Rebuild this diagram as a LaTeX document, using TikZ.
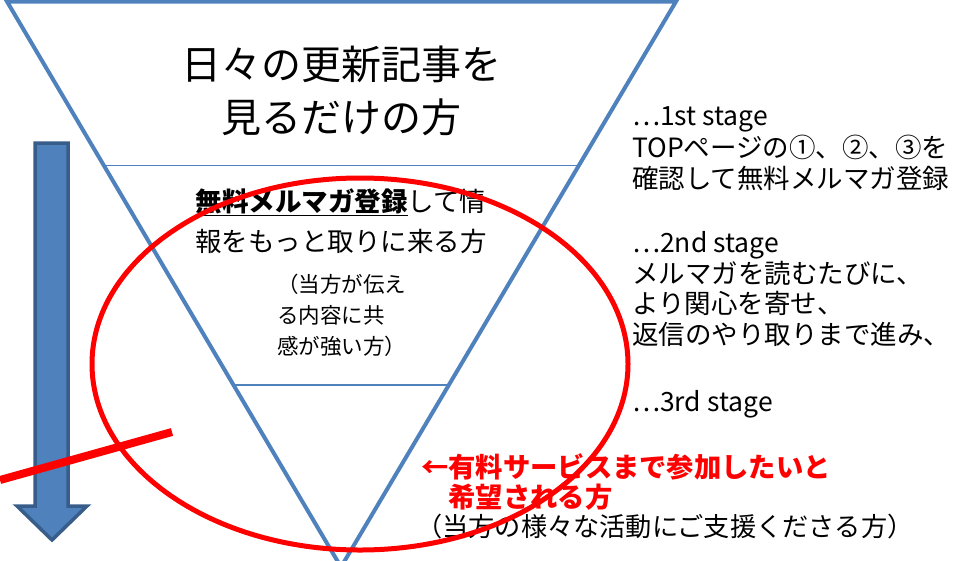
\documentclass[tikz,border=0pt]{standalone}
\usepackage{fontspec}
\setmainfont{Noto Sans CJK JP}
\usetikzlibrary{calc,positioning}
\definecolor{funnelblue}{HTML}{4F81BD}
\definecolor{arrowedge}{HTML}{385D8A}
\newcommand{\stagedots}{{\addfontfeature{RawFeature=+fwid}…}}

\begin{document}
\begin{tikzpicture}[x=1pt,y=-1pt,every node/.style={inner sep=0pt},funnel/.style={draw=funnelblue,line width=4pt,line join=miter},band/.style={draw=funnelblue,line width=1.8pt},lbl/.style={align=left,anchor=west},mark red/.style={draw=red,line width=5pt}]
      \useasboundingbox (0,0) rectangle (960,560);

      \coordinate (tl) at (7,1.5);
      \coordinate (tr) at (676,1.5);
      \coordinate (ap) at (341,567);

      \draw[funnel] (tl) -- (tr) -- (ap) -- cycle;
      \draw[band] ($(tl)!0.29!(ap)$) -- ($(tr)!0.29!(ap)$);
      \draw[band] ($(tl)!0.678!(ap)$) -- ($(tr)!0.678!(ap)$);

      \draw[draw=arrowedge,fill=funnelblue,line width=3.5pt,line join=miter] (35,143) -- (68,143) -- (68,506) -- (87,506) -- (52,540) -- (17,506) -- (35,506) -- cycle;

      \node[align=center,font=\fontsize{40}{53}\selectfont] (t1) at (341,91) {日々の更新記事を\\見るだけの方};
      \node[align=center,font=\fontsize{26.5}{40}\selectfont] (t2) at (341,221) {\textbf{\underline{無料メルマガ登録}}して情\\報をもっと取りに来る方};
      \node[lbl,font=\fontsize{21.5}{31}\selectfont] (t3) at (277,315) {（当方が伝え\\る内容に共\\感が強い方）};

      \node[lbl,font=\fontsize{26.5}{31.5}\selectfont] (s1) at (632,149) {\stagedots 1st stage\\TOPページの①、②、③を\\確認して無料メルマガ登録};
      \node[lbl,font=\fontsize{26.5}{30.7}\selectfont] (s2) at (632,289) {\stagedots 2nd stage\\メルマガを読むたびに、\\より関心を寄せ、\\返信のやり取りまで進み、};
      \node[lbl,font=\fontsize{26.5}{31}\selectfont] (s3) at (632,404) {\stagedots 3rd stage};

      \node[lbl,text=red,font=\bfseries\fontsize{27.3}{30}\selectfont] (r1) at (421,482) {←有料サービスまで参加したいと\\\hspace*{1em}希望される方};
      \node[lbl,font=\fontsize{26.2}{30}\selectfont] (r2) at (416,527) {（当方の様々な活動にご支援くださる方）};

      \draw[mark red] (360,364) ellipse [x radius=268,y radius=186];
      \draw[draw=red,line width=8pt] (0,480) -- (172,432);
     \end{tikzpicture}
\end{document}
